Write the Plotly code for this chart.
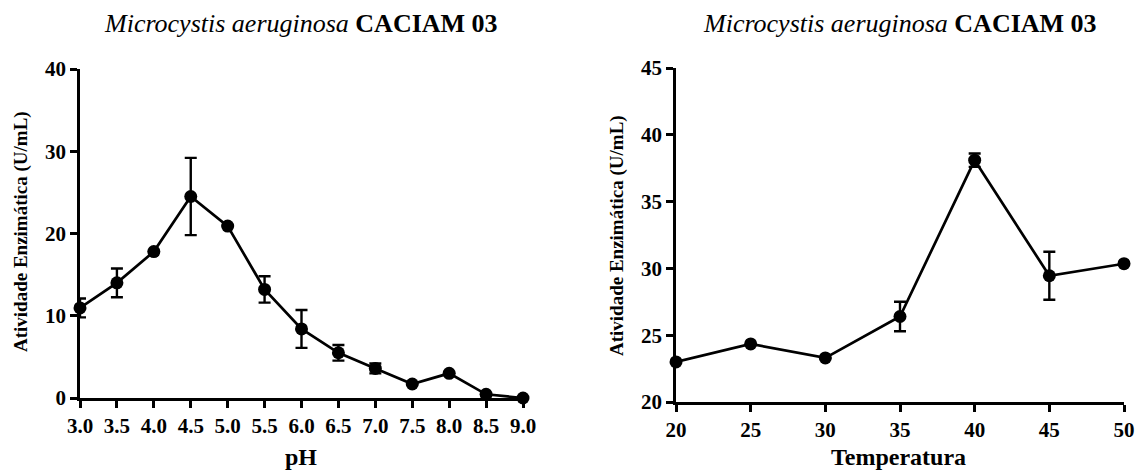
import plotly.graph_objects as go

# ---- data ----
ph = [3.0, 3.5, 4.0, 4.5, 5.0, 5.5, 6.0, 6.5, 7.0, 7.5, 8.0, 8.5, 9.0]
ph_activity = [10.95, 14.0, 17.8, 24.5, 20.9, 13.2, 8.4, 5.5, 3.6, 1.7, 3.0, 0.45, 0.0]
ph_error = [1.15, 1.75, 0.0, 4.7, 0.0, 1.6, 2.3, 0.95, 0.6, 0.0, 0.0, 0.0, 0.0]

temp = [20, 25, 30, 35, 40, 45, 50]
temp_activity = [23.0, 24.35, 23.3, 26.4, 38.1, 29.45, 30.35]
temp_error = [0.0, 0.0, 0.0, 1.1, 0.5, 1.8, 0.0]

title_text = "<i>Microcystis aeruginosa</i> <b>CACIAM 03</b>"
y_title = "<b>Atividade Enzimática (U/mL)</b>"
ph_title = "<b>pH</b>"
temp_title = "<b>Temperatura</b>"

FONT = "Liberation Serif, Times New Roman, serif"
W, H = 1138, 470

fig = go.Figure()

common_trace = dict(
    mode="lines+markers",
    line=dict(color="black", width=2.7),
    marker=dict(color="black", size=13),
    cliponaxis=False,
    showlegend=False,
)

fig.add_trace(go.Scatter(
    x=ph, y=ph_activity,
    error_y=dict(type="data", array=ph_error, visible=True, color="black", thickness=2.4, width=6),
    xaxis="x", yaxis="y", **common_trace))

fig.add_trace(go.Scatter(
    x=temp, y=temp_activity,
    error_y=dict(type="data", array=temp_error, visible=True, color="black", thickness=2.4, width=6),
    xaxis="x2", yaxis="y2", **common_trace))

tickfont = dict(family=FONT, size=21, color="black", weight="bold")
axis_common = dict(
    showline=True, linecolor="black", linewidth=2.7,
    ticks="outside", ticklen=7, tickwidth=2.7, tickcolor="black",
    showgrid=False, zeroline=False, tickfont=tickfont, automargin=False,
)

def px_x(p):
    return p / W

def px_y(p):
    return 1 - p / H

fig.update_layout(
    width=W, height=H,
    margin=dict(l=0, r=0, t=0, b=0, pad=0, autoexpand=False),
    paper_bgcolor="white", plot_bgcolor="white",
    showlegend=False,
    xaxis=dict(domain=[px_x(80), px_x(523)], range=[3, 9], tickmode="linear", tick0=3, dtick=0.5,
               tickformat=".1f", anchor="y", **axis_common),
    yaxis=dict(domain=[px_y(398), px_y(69)], range=[0, 40], tickmode="linear", tick0=0, dtick=10,
               anchor="x", **axis_common),
    xaxis2=dict(domain=[px_x(676), px_x(1124)], range=[20, 50], tickmode="linear", tick0=20, dtick=5,
                anchor="y2", **axis_common),
    yaxis2=dict(domain=[px_y(402), px_y(68)], range=[20, 45], tickmode="linear", tick0=20, dtick=5,
                anchor="x2", **axis_common),
)

annos = [
    dict(text=title_text, x=px_x(301), y=px_y(23), font=dict(family=FONT, size=26, color="black")),
    dict(text=title_text, x=px_x(900), y=px_y(23), font=dict(family=FONT, size=26, color="black")),
    dict(text=ph_title, x=px_x(301), y=px_y(457), font=dict(family=FONT, size=24, color="black")),
    dict(text=temp_title, x=px_x(898), y=px_y(457), font=dict(family=FONT, size=24, color="black")),
    dict(text=y_title, x=px_x(21), y=px_y(232), textangle=-90, font=dict(family=FONT, size=19, color="black")),
    dict(text=y_title, x=px_x(617), y=px_y(236), textangle=-90, font=dict(family=FONT, size=19, color="black")),
]
for a in annos:
    fig.add_annotation(xref="paper", yref="paper", showarrow=False,
                       xanchor="center", yanchor="middle", **a)

fig.write_html("out.html", config={"displayModeBar": False},
               post_script="document.body.style.margin='0';document.body.style.overflow='hidden';")
